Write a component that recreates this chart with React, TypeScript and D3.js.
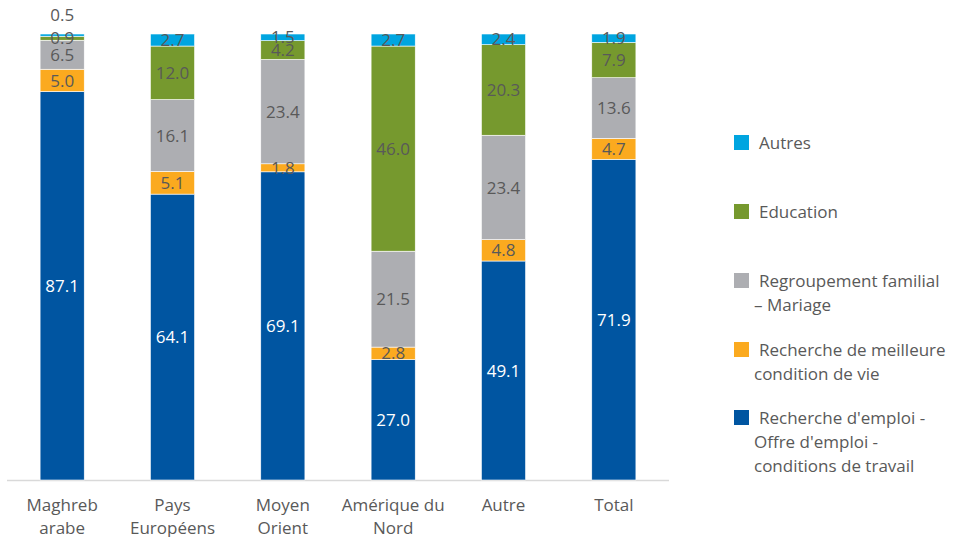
import React from "react";
import * as d3 from "d3";

const categories: string[][] = [
  ["Maghreb", "arabe"],
  ["Pays", "Européens"],
  ["Moyen", "Orient"],
  ["Amérique du", "Nord"],
  ["Autre"],
  ["Total"],
];
const emploi = [87.1, 64.1, 69.1, 27.0, 49.1, 71.9];
const vie = [5.0, 5.1, 1.8, 2.8, 4.8, 4.7];
const familial = [6.5, 16.1, 23.4, 21.5, 23.4, 13.6];
const education = [0.9, 12.0, 4.2, 46.0, 20.3, 7.9];
const autres = [0.5, 2.7, 1.5, 2.7, 2.4, 1.9];

const seriesNames = ["emploi", "vie", "familial", "education", "autres"];
const seriesValues = [emploi, vie, familial, education, autres];
const seriesColors = ["#0055A1", "#FBAA1F", "#ADAEB2", "#76992E", "#00A5E0"];
const legendLabels: string[][] = [
  ["Autres"],
  ["Education"],
  ["Regroupement familial", "– Mariage"],
  ["Recherche de meilleure", "condition de vie"],
  ["Recherche d'emploi -", "Offre d'emploi -", "conditions de travail"],
];
const legendColors = ["#00A5E0", "#76992E", "#ADAEB2", "#FBAA1F", "#0055A1"];

const FONT = "'Open Sans', sans-serif";
const TXT = "#595959";

export default function App() {
  const width = 960;
  const height = 537;
  const x = d3
    .scaleBand<number>()
    .domain(d3.range(categories.length))
    .range([7, 669])
    .paddingInner(0.6)
    .paddingOuter(0.3);
  const y = d3.scaleLinear().domain([0, 100]).range([480, 34]);

  const rows = categories.map((_, i) => {
    const r: any = { i };
    seriesNames.forEach((s, k) => (r[s] = seriesValues[k][i]));
    return r;
  });
  const stacked = d3.stack<any>().keys(seriesNames)(rows);

  return (
    <svg
      width={width}
      height={height}
      style={{ position: "absolute", left: 0, top: 0, background: "#fff" }}
      fontFamily={FONT}
    >
      <line x1={7} x2={669} y1={480.5} y2={480.5} stroke="#D9D9D9" strokeWidth={1.5} />
      {stacked.map((layer, k) => (
        <g key={k}>
          {layer.map((d, i) => {
            const y0 = y(d[0]);
            const y1 = y(d[1]);
            return (
              <rect
                key={i}
                x={x(i)}
                y={y1}
                width={x.bandwidth()}
                height={y0 - y1}
                fill={seriesColors[k]}
                stroke="#fff"
                strokeWidth={0.6}
              />
            );
          })}
        </g>
      ))}
      {stacked.map((layer, k) => (
        <g key={"l" + k}>
          {layer.map((d, i) => {
            const v = seriesValues[k][i];
            const small = k === 4 && v < 1;
            const cy = small ? y(d[1]) - 19 : (y(d[0]) + y(d[1])) / 2;
            return (
              <text
                key={i}
                x={(x(i) as number) + x.bandwidth() / 2}
                y={cy}
                dy="0.36em"
                textAnchor="middle"
                fontSize={17}
                fill={k === 0 ? "#fff" : TXT}
              >
                {v.toFixed(1)}
              </text>
            );
          })}
        </g>
      ))}
      {categories.map((lines, i) => (
        <text
          key={i}
          x={(x(i) as number) + x.bandwidth() / 2}
          textAnchor="middle"
          fontSize={17}
          fill={TXT}
        >
          {lines.map((l, j) => (
            <tspan key={j} x={(x(i) as number) + x.bandwidth() / 2} y={511 + j * 23}>
              {l}
            </tspan>
          ))}
        </text>
      ))}
      {legendLabels.map((lines, k) => {
        const tops = [143, 212, 281, 350, 418];
        const ty = tops[k];
        return (
          <g key={k}>
            <rect x={734} y={ty - 8} width={15} height={15} fill={legendColors[k]} />
            {lines.map((l, j) => (
              <text
                key={j}
                x={j === 0 ? 759 : 754}
                y={ty + j * 24}
                dy="0.36em"
                fontSize={17}
                fill={TXT}
              >
                {l}
              </text>
            ))}
          </g>
        );
      })}
    </svg>
  );
}
